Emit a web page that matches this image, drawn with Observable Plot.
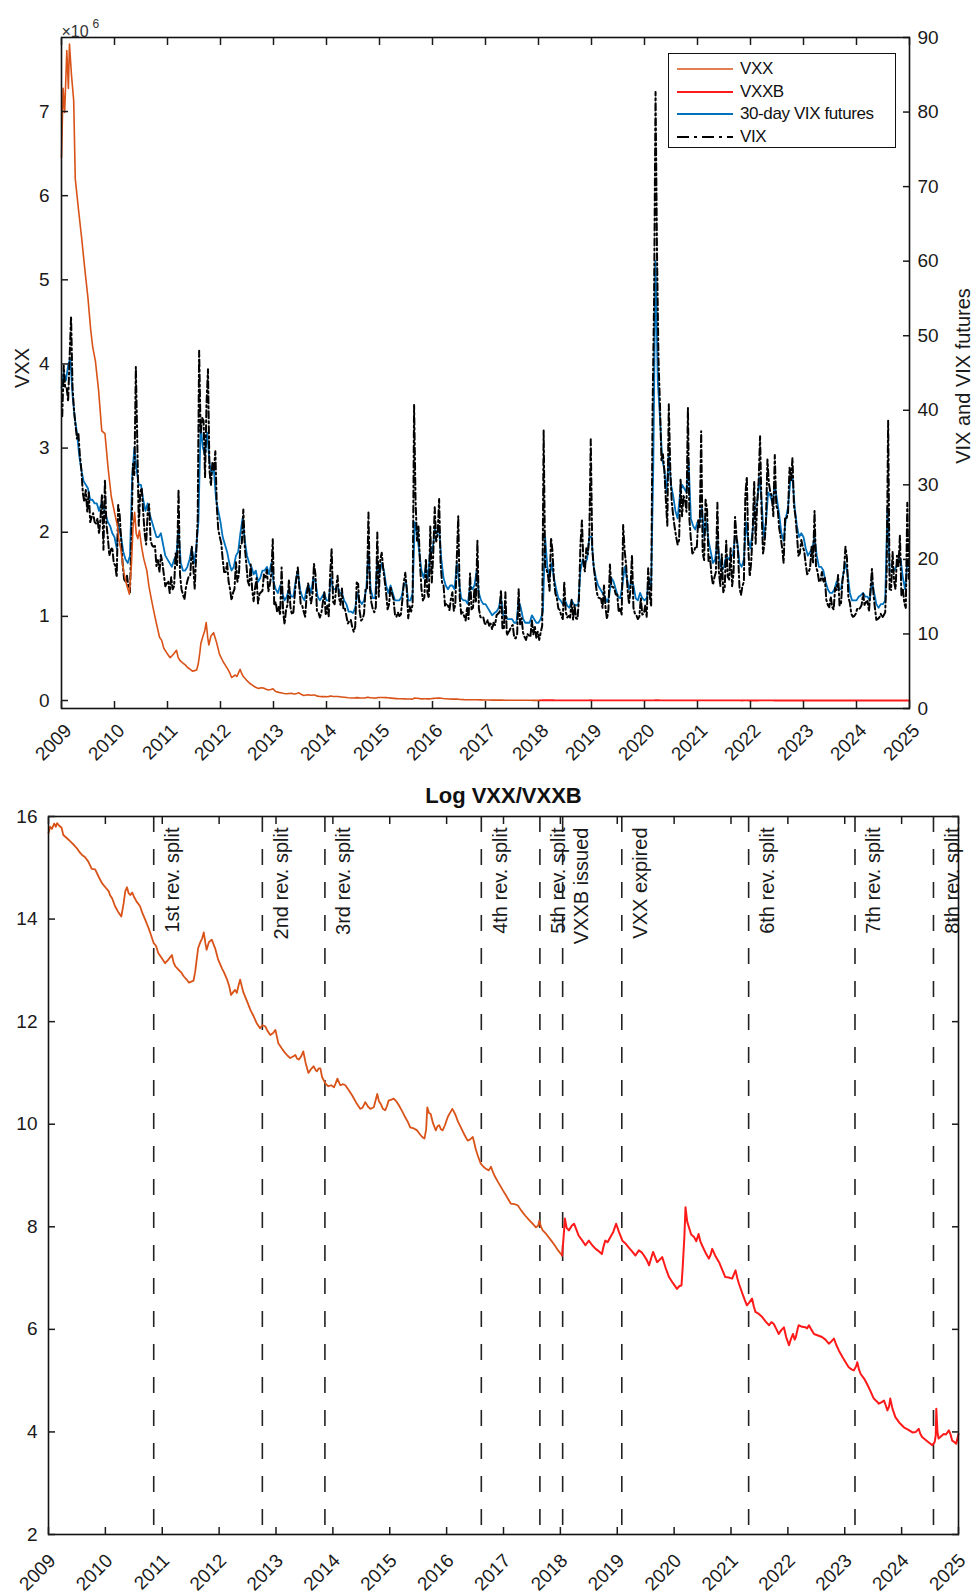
<!DOCTYPE html>
<html>
<head>
<meta charset="utf-8">
<script src="https://cdn.jsdelivr.net/npm/d3@7"></script>
<script src="https://cdn.jsdelivr.net/npm/@observablehq/plot@0.6"></script>
<style>
  body { margin: 0; background: #fff; }
  #root { position: relative; width: 972px; height: 1593px; font-family: "Liberation Sans", Arial, Helvetica, sans-serif; background: #fff; }
  .layer { position: absolute; left: 0; }
  #legend { position: absolute; left: 668px; top: 53px; width: 228px; height: 95px; border: 1.6px solid #111; background: #fff; box-sizing: border-box; padding-top: 4px; }
  #legend .row { display: flex; align-items: center; height: 22.5px; font-size: 17px; color: #111; letter-spacing: -0.4px; }
  #legend svg { margin-left: 8px; margin-right: 7px; }
</style>
</head>
<body>
<div id="root"></div>
<script>
// ---------------- DATA ----------------
// Year ticks
const yearTicks = [2009,2010,2011,2012,2013,2014,2015,2016,2017,2018,2019,2020,2021,2022,2023,2024,2025];
const vxxTicks = [0,1,2,3,4,5,6,7];
const vixTicks = [0,10,20,30,40,50,60,70,80,90];
const logTicks = [2,4,6,8,10,12,14,16];

// VIX index, three readings per month (early / mid / late)
const vix2009 = [39.2,46.0,43.0, 43.0,41.2,47.1, 52.6,43.0,40.0, 38.0,36.2,36.8, 33.9,32.0,28.9, 27.7,29.3,26.4, 29.0,25.0,25.7, 26.2,25.0,24.8, 25.5,23.4,25.6, 28.7,21.3,30.7, 24.7,22.9,20.5, 21.3,21.6,19.5];
const vix2010 = [19.2,17.6,27.3, 26.0,22.7,19.5, 17.4,16.9,17.8, 16.2,15.6,22.8, 32.8,31.2,45.8, 35.5,24.5,29.0, 29.6,26.3,23.5, 22.0,26.2,27.4, 22.6,21.9,21.7, 21.8,19.1,19.9, 18.3,20.6,19.6, 18.0,16.4,16.8];
const vix2011 = [17.1,15.5,17.6, 16.0,16.4,20.8, 19.2,29.4,18.0, 16.0,15.3,14.6, 16.2,17.1,17.8, 17.9,21.8,19.0, 16.0,20.8,25.3, 48.0,36.9,39.0, 38.6,31.0,40.9, 45.5,32.0,29.9, 33.0,32.0,34.5, 27.0,24.0,23.0];
const vix2012 = [22.2,20.0,18.3, 18.3,19.5,17.0, 16.0,14.5,15.5, 16.0,19.6,17.0, 18.0,21.8,22.2, 26.7,21.7,19.5, 17.1,16.5,19.3, 16.0,14.4,16.2, 17.5,14.1,15.4, 15.6,15.8,18.0, 17.6,18.6,15.7, 16.6,18.0,22.7];
const vix2013 = [13.8,14.3,12.9, 13.7,12.5,18.9, 13.1,11.3,13.2, 13.9,17.3,13.6, 12.6,12.9,15.4, 17.5,18.9,16.3, 14.0,13.8,13.0, 12.3,15.1,16.8, 15.4,14.1,15.3, 19.4,18.0,13.1, 12.9,12.2,12.8, 14.2,15.6,12.5];
const vix2014 = [13.8,12.3,18.1, 21.4,14.3,14.0, 16.0,17.8,14.9, 13.9,16.1,13.3, 13.4,12.4,11.4, 11.7,11.9,10.9, 10.3,11.0,16.9, 16.7,13.1,11.8, 12.0,12.7,16.0, 16.0,26.3,16.1, 14.2,13.3,12.9, 13.6,23.6,15.0];
const vix2015 = [19.9,20.9,18.8, 17.2,15.5,13.3, 14.0,16.3,15.4, 14.7,12.6,12.3, 12.9,12.4,12.6, 14.5,16.9,18.2, 16.1,12.1,13.7, 13.0,14.0,40.7, 27.8,22.5,24.4, 19.5,16.0,14.5, 14.9,20.1,15.6, 14.8,24.4,16.9];
const vix2016 = [20.6,27.0,22.4, 23.4,28.1,19.4, 16.9,16.5,13.8, 14.1,13.8,13.2, 14.7,15.6,13.1, 14.0,20.1,25.8, 14.8,12.7,12.9, 12.4,11.8,13.6, 12.0,18.1,13.3, 13.5,16.1,14.2, 22.5,13.4,12.3, 12.1,12.2,11.4];
const vix2017 = [11.3,11.9,11.1, 11.4,10.6,11.5, 11.2,12.5,12.7, 12.9,15.9,10.8, 10.6,15.6,9.8, 10.2,10.5,11.0, 11.2,9.5,9.4, 10.0,16.0,11.3, 12.1,10.2,9.6, 9.2,10.0,9.8, 9.6,11.8,9.9, 11.1,9.5,10.3];
const vix2018 = [9.2,10.2,11.1, 37.3,19.1,18.6, 17.8,15.8,22.9, 21.1,17.2,15.4, 14.8,13.4,13.2, 12.4,12.0,17.0, 13.0,12.2,12.4, 12.2,14.6,11.9, 13.9,12.1,12.0, 14.8,22.0,25.2, 19.5,18.4,21.5, 20.7,23.0,36.1];
const vix2019 = [21.4,19.0,17.4, 15.7,14.9,14.8, 14.7,13.5,16.5, 13.6,12.0,13.3, 19.3,16.4,16.3, 16.1,15.3,15.3, 12.9,13.5,12.6, 24.6,21.2,19.3, 16.0,14.0,16.1, 20.6,13.5,12.7, 12.5,12.0,12.3, 14.8,12.6,12.7];
const vix2020 = [13.8,12.3,18.8, 15.2,13.7,40.1, 54.5,82.7,61.0, 46.7,40.8,33.3, 34.1,31.9,28.0, 24.5,40.8,32.2, 27.7,25.8,24.3, 23.0,22.0,22.6, 30.8,25.8,28.5, 28.0,26.4,40.3, 25.4,22.7,20.8, 21.0,21.6,21.5];
const vix2021 = [25.3,24.3,37.2, 20.9,19.9,28.0, 26.7,19.8,20.3, 17.9,16.6,17.6, 18.3,27.6,18.4, 16.4,20.7,15.6, 16.2,22.5,17.7, 17.3,21.6,16.4, 18.2,25.7,23.1, 21.0,16.3,15.2, 16.4,17.0,28.6, 31.1,21.6,17.7];
const vix2022 = [19.7,23.9,30.5, 22.1,27.4,30.3, 36.5,26.7,20.8, 22.1,25.0,33.4, 30.2,29.0,28.5, 25.8,34.0,27.2, 26.7,24.2,23.0, 21.5,19.5,25.6, 25.5,26.3,32.3, 30.5,33.6,27.3, 25.8,23.5,20.5, 20.8,22.6,21.7];
const vix2023 = [21.1,19.4,18.0, 18.3,18.9,21.7, 19.6,26.5,19.0, 18.4,17.1,17.0, 18.3,16.9,17.5, 14.6,13.9,13.6, 15.0,13.6,13.3, 16.2,15.9,17.9, 13.8,14.1,17.2, 18.6,21.7,20.2, 14.9,14.2,12.7, 12.3,12.4,12.7];
const vix2024 = [13.4,13.3,13.5, 13.9,15.4,13.8, 14.3,14.4,13.0, 16.0,18.7,15.4, 13.5,11.9,12.0, 12.2,12.7,12.2, 12.5,12.9,18.5, 38.6,16.0,15.9, 21.0,17.1,16.0, 20.5,19.1,23.2, 15.2,16.1,14.1, 13.5,27.6,17.4];

// 30-day VIX futures, two readings per month (1st / 16th)
const fut2009 = [43,45, 44,46, 47,42, 39,37, 34,32, 30.5,30, 29.5,28, 28,27.5, 27.5,26.5, 27.5,27, 26,25, 24.5,23.5];
const fut2010 = [23,21.5, 24.5,23, 21,20, 19.5,20.5, 31,35, 32,30, 30,28, 26.5,27.5, 26,25, 24,23, 23,23.5, 22,20.5];
const fut2011 = [20,19.5, 19,20, 20.5,24, 19.5,18.5, 18.5,19, 20,21.5, 19.5,21.5, 25,38, 35,34, 37,33, 31.5,32, 28,26.5];
const fut2012 = [25,23, 22,21, 19.5,18.5, 19,20.5, 21,23.5, 25.5,22.5, 20.5,19.5, 19,18, 18.5,17, 17.5,18.5, 18.5,19, 18,19.5];
const fut2013 = [17,16, 15.5,16.5, 15.5,14.5, 15,16, 15,15, 17,18.5, 16,15, 14.5,16, 16.5,15.5, 17.5,17, 15,14.5, 15,15.5];
const fut2014 = [14.5,14.5, 17.5,16, 16,16.5, 15.5,15.5, 14.5,14, 13,13, 12.8,13.5, 15.5,14.5, 14,14.5, 16,21, 16,14.8, 14.8,19.5];
const fut2015 = [18,19.5, 18.5,16.5, 15.5,16.5, 15.5,14.5, 14.5,14.5, 15,16.5, 17,14.5, 14.5,15.5, 25,23.5, 21,18.5, 17.5,19, 17.5,21.5];
const fut2016 = [21,24, 23.5,24, 20,17.5, 16.5,16, 16.5,16.5, 16,19.5, 17,14.8, 14.5,14.5, 14,16.5, 16,16.5, 18.5,15.5, 14.5,14];
const fut2017 = [14,13.5, 13,12.5, 12.8,13, 13.5,15, 12.5,12.5, 12,12, 12,11.5, 11.5,14.5, 13.5,12, 11.5,11.5, 11.5,12.5, 12,11.5];
const fut2018 = [11.5,12, 13,23, 19,17.5, 19.5,17.5, 16,14.8, 14.5,14, 14.5,13.8, 13.5,14.5, 14,13.8, 14,18.5, 20,19.5, 20,23];
const fut2019 = [23,19, 17.5,16.5, 16,15.5, 15,14.3, 15,17.5, 17,16, 15,14.8, 16.5,19, 17.5,16, 17,16.5, 14.8,14.5, 15.5,14.8];
const fut2020 = [14.5,14.8, 17.5,16, 33,60, 44,39, 33.5,32, 29,34, 30,28.5, 26.5,25.5, 28.5,30, 29.5,29, 33,25.5, 24.5,24];
const fut2021 = [25,25, 27,23, 25,22.5, 21,19.5, 20,22.5, 20,18.5, 19,20.5, 20,20.5, 20.5,23, 22.5,19.5, 19,20, 25,22.5];
const fut2022 = [21.5,24, 27,27.5, 31,28, 23,25, 29,28.5, 27.5,30, 28,26, 23.5,22.5, 25.5,27, 30.5,31, 27,24.5, 23,23.5];
const fut2023 = [23,21.5, 20.5,21, 21.5,23, 20.5,19, 19,18.5, 17,16, 15.5,15.5, 16,17, 16,16, 18,19.5, 18,15.5, 14.5,14.5];
const fut2024 = [14.5,15, 15.2,15.5, 15,15, 14.5,17, 15.5,14, 13.5,14, 14,14.5, 27,18.5, 18.5,18.5, 19,20, 20,17.5, 16,19.5];

// Log VXX (decimal year, log price) until VXXB issue, then log VXXB
const vxxT = [2009.00,2009.03,2009.06,2009.10,2009.13,2009.15,2009.19,2009.23,2009.26,2009.32,2009.38,2009.44,2009.50,2009.55,2009.59,2009.64,2009.70,2009.76,2009.82,2009.88,2009.94,2010.00,2010.06,2010.08,2010.12,2010.17,2010.22,2010.28,2010.32,2010.35,2010.38,2010.41,2010.44,2010.47,2010.51,2010.55,2010.61,2010.65,2010.70,2010.75,2010.79,2010.85,2010.89,2010.93,2010.99,2011.05,2011.10,2011.17,2011.20,2011.23,2011.28,2011.34,2011.38,2011.43,2011.47,2011.51,2011.55,2011.58,2011.61,2011.63,2011.67,2011.70,2011.73,2011.76,2011.78,2011.82,2011.87,2011.93,2011.98,2012.05,2012.09,2012.14,2012.18,2012.21,2012.25,2012.28,2012.31,2012.34,2012.37,2012.40,2012.43,2012.49,2012.55,2012.60,2012.66,2012.72,2012.76,2012.81,2012.85,2012.90,2012.95,2012.99,2013.04,2013.10,2013.16,2013.20,2013.25,2013.30,2013.34,2013.37,2013.40,2013.44,2013.48,2013.52,2013.57,2013.62,2013.66,2013.70,2013.72,2013.75,2013.78,2013.81,2013.87,2013.92,2013.97,2014.02,2014.05,2014.08,2014.13,2014.18,2014.22,2014.28,2014.34,2014.41,2014.48,2014.52,2014.57,2014.62,2014.66,2014.72,2014.78,2014.81,2014.84,2014.88,2014.92,2014.95,2014.98,2015.03,2015.07,2015.12,2015.16,2015.22,2015.27,2015.32,2015.36,2015.42,2015.48,2015.52,2015.57,2015.61,2015.64,2015.66,2015.69,2015.72,2015.76,2015.81,2015.84,2015.87,2015.90,2015.93,2015.97,2016.02,2016.06,2016.10,2016.13,2016.16,2016.20,2016.25,2016.31,2016.37,2016.41,2016.46,2016.49,2016.51,2016.55,2016.60,2016.64,2016.69,2016.74,2016.78,2016.81,2016.84,2016.90,2016.99,2017.06,2017.13,2017.19,2017.25,2017.31,2017.38,2017.46,2017.52,2017.57,2017.61,2017.63,2017.66,2017.69,2017.75,2017.84,2017.90,2017.96,2018.03];
const vxxLog = [15.68,15.80,15.76,15.86,15.80,15.87,15.82,15.78,15.64,15.58,15.52,15.45,15.38,15.30,15.25,15.21,15.12,14.98,14.97,14.83,14.70,14.62,14.54,14.47,14.40,14.25,14.15,14.05,14.30,14.54,14.62,14.50,14.47,14.52,14.42,14.34,14.25,14.12,13.99,13.85,13.73,13.53,13.48,13.34,13.24,13.14,13.20,13.30,13.15,13.08,13.02,12.95,12.88,12.82,12.76,12.78,12.80,12.98,13.25,13.43,13.55,13.62,13.74,13.52,13.40,13.55,13.60,13.43,13.22,13.04,12.95,12.82,12.68,12.52,12.58,12.62,12.56,12.70,12.82,12.68,12.56,12.40,12.23,12.12,11.97,11.87,11.93,11.91,11.82,11.74,11.78,11.84,11.58,11.48,11.39,11.34,11.29,11.32,11.35,11.28,11.26,11.32,11.42,11.20,11.00,11.08,11.13,11.05,11.03,11.09,11.09,10.92,10.79,10.74,10.76,10.72,10.80,10.89,10.76,10.78,10.76,10.66,10.56,10.42,10.30,10.32,10.43,10.34,10.30,10.33,10.59,10.45,10.40,10.30,10.27,10.35,10.46,10.48,10.50,10.44,10.37,10.25,10.14,10.04,9.94,9.92,9.88,9.82,9.75,9.72,9.90,10.33,10.22,10.20,10.02,9.88,9.96,9.98,9.90,9.88,9.98,10.14,10.22,10.30,10.24,10.17,10.05,9.94,9.80,9.68,9.70,9.75,9.62,9.52,9.38,9.23,9.18,9.13,9.10,9.17,9.08,9.00,8.88,8.71,8.58,8.45,8.44,8.42,8.32,8.22,8.12,8.05,7.99,8.02,8.12,8.00,7.93,7.86,7.73,7.64,7.54,7.44];
const vxxbT = [2018.03,2018.05,2018.08,2018.11,2018.15,2018.20,2018.24,2018.28,2018.32,2018.38,2018.44,2018.50,2018.56,2018.62,2018.68,2018.73,2018.76,2018.79,2018.83,2018.88,2018.93,2018.98,2019.03,2019.09,2019.14,2019.20,2019.26,2019.32,2019.38,2019.43,2019.47,2019.52,2019.56,2019.60,2019.63,2019.67,2019.70,2019.75,2019.79,2019.85,2019.91,2019.98,2020.05,2020.09,2020.13,2020.15,2020.18,2020.20,2020.23,2020.26,2020.30,2020.35,2020.39,2020.43,2020.46,2020.49,2020.55,2020.61,2020.64,2020.67,2020.73,2020.79,2020.85,2020.90,2020.96,2021.02,2021.08,2021.11,2021.14,2021.20,2021.24,2021.28,2021.32,2021.37,2021.40,2021.43,2021.49,2021.55,2021.61,2021.67,2021.71,2021.75,2021.80,2021.84,2021.88,2021.93,2021.97,2022.02,2022.05,2022.09,2022.12,2022.14,2022.17,2022.19,2022.25,2022.31,2022.34,2022.37,2022.41,2022.46,2022.53,2022.60,2022.66,2022.72,2022.76,2022.81,2022.85,2022.90,2022.96,2023.02,2023.07,2023.12,2023.16,2023.20,2023.22,2023.25,2023.28,2023.34,2023.39,2023.45,2023.51,2023.56,2023.60,2023.65,2023.69,2023.72,2023.75,2023.78,2023.80,2023.84,2023.89,2023.96,2024.04,2024.12,2024.19,2024.25,2024.30,2024.33,2024.36,2024.45,2024.54,2024.58,2024.60,2024.61,2024.63,2024.65,2024.70,2024.74,2024.78,2024.83,2024.86,2024.89,2024.93,2024.96,2025.00];
const vxxbLog = [7.44,7.70,8.16,7.98,7.93,8.02,8.06,7.95,7.83,7.74,7.64,7.73,7.64,7.57,7.52,7.47,7.62,7.73,7.70,7.80,7.90,8.06,7.90,7.73,7.68,7.60,7.52,7.44,7.54,7.50,7.44,7.35,7.25,7.40,7.51,7.40,7.31,7.36,7.41,7.20,7.02,6.90,6.79,6.84,6.86,7.20,7.80,8.38,8.10,7.99,7.85,7.80,7.72,7.86,7.72,7.64,7.50,7.38,7.45,7.57,7.42,7.31,7.15,7.02,7.01,6.99,7.15,7.00,6.89,6.70,6.58,6.47,6.52,6.60,6.45,6.34,6.30,6.24,6.15,6.08,6.14,6.11,6.00,5.91,5.98,6.04,5.85,5.69,5.80,5.91,5.80,5.85,6.00,6.08,6.05,6.04,6.02,6.08,6.00,5.91,5.88,5.85,5.80,5.72,5.76,5.82,5.70,5.58,5.46,5.35,5.26,5.22,5.20,5.28,5.36,5.22,5.13,5.04,4.94,4.80,4.65,4.60,4.55,4.58,4.61,4.52,4.42,4.50,4.65,4.45,4.29,4.18,4.09,4.04,3.99,4.00,4.06,3.96,3.90,3.82,3.74,3.80,3.93,4.45,4.00,3.87,3.92,3.96,3.95,4.03,3.95,3.83,3.80,3.77,3.96];

// Events (decimal year) and their labels
const eventT = [2010.85, 2012.76, 2013.86, 2016.61, 2017.64, 2018.04, 2019.08, 2021.31, 2023.18, 2024.56];
const eventLabel = ["1st rev. split", "2nd rev. split", "3rd rev. split", "4th rev. split", "5th rev. split", "VXXB issued", "VXX expired", "6th rev. split", "7th rev. split", "8th rev. split"];

const legendNames = ["VXX", "VXXB", "30-day VIX futures", "VIX"];

// ---------------- BUILD ----------------
const C_VXX = "#D95319", C_VXXB = "#FF1A1A", C_FUT = "#0072BD", C_VIX = "#000000";
const FONT = "Liberation Sans, Arial, Helvetica, sans-serif";
const vixYears = [vix2009,vix2010,vix2011,vix2012,vix2013,vix2014,vix2015,vix2016,vix2017,vix2018,vix2019,vix2020,vix2021,vix2022,vix2023,vix2024];
const futYears = [fut2009,fut2010,fut2011,fut2012,fut2013,fut2014,fut2015,fut2016,fut2017,fut2018,fut2019,fut2020,fut2021,fut2022,fut2023,fut2024];
const vixRows = vixYears.flatMap((arr, yi) => arr.map((v, i) => ({t: 2009 + yi + (i + 0.5) / 36, v})));
const futRows = futYears.flatMap((arr, yi) => arr.map((v, i) => ({t: 2009 + yi + i / 24, v})));
const vxxRows = vxxT.map((t, i) => ({t, v: vxxLog[i]}));
const vxxbRows = vxxbT.map((t, i) => ({t, v: vxxbLog[i]}));
// top panel shows the price itself (in units of 10^6)
const vxxPrice = vxxRows.map(d => ({t: d.t, v: Math.exp(d.v) / 1e6}));
const vxxbPrice = vxxbRows.map(d => ({t: d.t, v: Math.exp(d.v) / 1e6}));
const events = eventT.map((t, i) => ({t, label: eventLabel[i]}));

const baseStyle = {background: "transparent", fontFamily: FONT, fontSize: "19px", color: "#1a1a1a", overflow: "visible"};
const root = document.getElementById("root");

function place(el, top) { el.classList.add("layer"); el.style.top = top + "px"; root.appendChild(el); }

const TOP = {width: 972, height: 770, marginTop: 37, marginLeft: 61, marginRight: 63, marginBottom: 62};

// Layer A: right axis (VIX, futures)
const topA = Plot.plot({
  ...TOP, style: baseStyle,
  x: {domain: [2009, 2025], axis: null},
  y: {domain: [0, 90], axis: null},
  marks: [
    Plot.line(futRows, {x: "t", y: "v", stroke: C_FUT, strokeWidth: 1.8}),
    Plot.line(vixRows, {x: "t", y: "v", stroke: C_VIX, strokeWidth: 2, strokeDasharray: "7,3,2,3"}),
    Plot.axisY({anchor: "right", label: null, ticks: vixTicks, tickSize: -7, tickPadding: 15, strokeWidth: 1.5, tickFormat: d => String(d)}),
    Plot.text(["VIX and VIX futures"], {text: d => d, frameAnchor: "right", textAnchor: "middle", dx: 54, dy: 3, rotate: -90, fontSize: 20, fill: "#1a1a1a"})
  ]
});
place(topA, 0);

// Layer B: left axis (VXX / VXXB) and shared x axis
const topB = Plot.plot({
  ...TOP, style: baseStyle,
  x: {domain: [2009, 2025]},
  y: {domain: [-0.095, 7.88]},
  marks: [
    Plot.line(vxxPrice, {x: "t", y: "v", stroke: C_VXX, strokeWidth: 1.6}),
    Plot.line(vxxbPrice, {x: "t", y: "v", stroke: C_VXXB, strokeWidth: 1.8}),
    Plot.frame({stroke: "#111", strokeWidth: 1.6}),
    Plot.axisY({anchor: "left", label: null, ticks: vxxTicks, tickSize: -7, tickPadding: 19, strokeWidth: 1.5, tickFormat: d => String(d)}),
    Plot.axisX({anchor: "top", label: null, ticks: yearTicks, tickSize: -7, strokeWidth: 1.5, tickFormat: () => ""}),
    Plot.axisX({anchor: "bottom", label: null, ticks: yearTicks, tickSize: -7, strokeWidth: 1.5, tickFormat: () => ""}),
    Plot.axisX({anchor: "bottom", label: null, ticks: yearTicks, tickSize: 0, tickPadding: 10, tickRotate: -45, dx: 7, dy: 9, tickFormat: d => String(d)}),
    Plot.text(["VXX"], {text: d => d, frameAnchor: "left", textAnchor: "middle", dx: -39, dy: -5, rotate: -90, fontSize: 20, fill: "#1a1a1a"}),
    Plot.text(["\u00d710"], {text: d => d, frameAnchor: "top-left", textAnchor: "start", dx: 0, dy: -12, fontSize: 16, fill: "#333"}),
    Plot.text(["6"], {text: d => d, frameAnchor: "top-left", textAnchor: "start", dx: 31, dy: -18, fontSize: 12, fill: "#333"})
  ]
});
place(topB, 0);

// Legend
const legend = document.createElement("div");
legend.id = "legend";
const legendStyles = [
  {stroke: C_VXX, w: 1.5, dash: null},
  {stroke: C_VXXB, w: 2, dash: null},
  {stroke: C_FUT, w: 2, dash: null},
  {stroke: C_VIX, w: 1.8, dash: "12,5,3,5"}
];
legendNames.forEach((name, i) => {
  const s = legendStyles[i];
  const row = document.createElement("div");
  row.className = "row";
  row.innerHTML = `<svg width="56" height="10"><line x1="0" x2="56" y1="5" y2="5" stroke="${s.stroke}" stroke-width="${s.w}" ${s.dash ? `stroke-dasharray="${s.dash}"` : ""}/></svg><span>${name}</span>`;
  legend.appendChild(row);
});
root.appendChild(legend);

// Bottom panel: log VXX / VXXB
const bottom = Plot.plot({
  width: 972, height: 823, marginTop: 46, marginLeft: 48, marginRight: 14, marginBottom: 59,
  style: baseStyle,
  x: {domain: [2009, 2025]},
  y: {domain: [2, 16]},
  marks: [
    Plot.ruleX(events, {x: "t", stroke: "#222", strokeWidth: 1.6, strokeDasharray: "16,17"}),
    Plot.line(vxxRows, {x: "t", y: "v", stroke: C_VXX, strokeWidth: 1.8}),
    Plot.line(vxxbRows, {x: "t", y: "v", stroke: C_VXXB, strokeWidth: 2}),
    Plot.text(events, {x: "t", text: "label", frameAnchor: "top", rotate: -90, textAnchor: "end", dx: 11, dy: 11, fontSize: 20, fill: "#1a1a1a"}),
    Plot.frame({stroke: "#111", strokeWidth: 1.6}),
    Plot.axisY({anchor: "left", label: null, ticks: logTicks, tickSize: -7, tickPadding: 18, strokeWidth: 1.5, tickFormat: d => String(d)}),
    Plot.axisY({anchor: "right", label: null, ticks: logTicks, tickSize: -7, strokeWidth: 1.5, tickFormat: () => ""}),
    Plot.axisX({anchor: "top", label: null, ticks: yearTicks, tickSize: -7, strokeWidth: 1.5, tickFormat: () => ""}),
    Plot.axisX({anchor: "bottom", label: null, ticks: yearTicks, tickSize: -7, strokeWidth: 1.5, tickFormat: () => ""}),
    Plot.axisX({anchor: "bottom", label: null, ticks: yearTicks, tickSize: 0, tickPadding: 10, tickRotate: -45, dx: 4, dy: 13, tickFormat: d => String(d)}),
    Plot.text(["Log VXX/VXXB"], {text: d => d, frameAnchor: "top", textAnchor: "middle", dy: -29, fontSize: 22, fontWeight: "bold", fill: "#111"})
  ]
});
place(bottom, 770);
</script>
</body>
</html>
